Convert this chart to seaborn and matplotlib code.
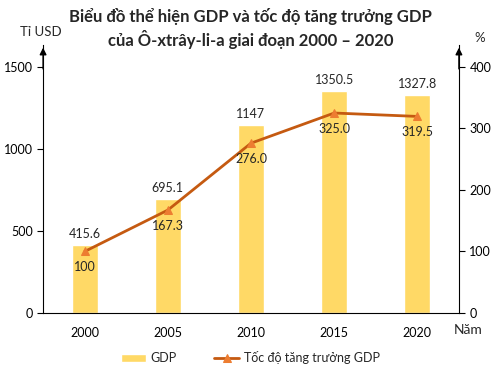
import matplotlib
matplotlib.use("Agg")
import matplotlib.pyplot as plt
import numpy as np
import pandas as pd
import seaborn as sns

years = ["2000", "2005", "2010", "2015", "2020"]
gdp = [415.6, 695.1, 1147, 1350.5, 1327.8]
growth = [100, 167.3, 276.0, 325.0, 319.5]
gdp_labels = ["415.6", "695.1", "1147", "1350.5", "1327.8"]
growth_labels = ["100", "167.3", "276.0", "325.0", "319.5"]

sns.set_style("white")
plt.rcParams["font.family"] = ["Lato", "DejaVu Sans"]

df = pd.DataFrame({"year": years, "gdp": gdp, "growth": growth})

fig = plt.figure(figsize=(5.01, 3.74), dpi=100)
ax = fig.add_axes([0.086, 0.163, 0.83, 0.717])

sns.barplot(data=df, x="year", y="gdp", color="#FFD966", width=0.31,
            saturation=1, ax=ax, label="GDP")
ax.set_xlim(-0.5, 4.5)
ax.set_ylim(0, 1634)
ax.set_yticks([0, 500, 1000, 1500])
ax.set_xlabel("")
ax.set_ylabel("")

ax2 = ax.twinx()
sns.lineplot(x=np.arange(len(years)), y=growth, ax=ax2, color="#C55A11",
             linewidth=2, marker="^", markersize=5.5, markerfacecolor="#ED7D31",
             markeredgecolor="#ED7D31", label="Tốc độ tăng trưởng GDP")
ax2.set_ylim(0, 1634 * 400 / 1500)
ax2.set_yticks([0, 100, 200, 300, 400])
ax2.set_xlim(-0.5, 4.5)

for a in (ax, ax2):
    a.spines["top"].set_visible(False)
    a.spines["left"].set_color("black")
    a.spines["right"].set_color("black")
    a.spines["bottom"].set_color("black")
    a.tick_params(labelsize=9, length=4, colors="black")
ax.spines["right"].set_visible(False)
ax2.spines["left"].set_visible(False)
ax2.spines["bottom"].set_visible(False)
ax.tick_params(axis="x", length=0, pad=10)
ax.tick_params(axis="y", left=True, direction="out")
ax2.tick_params(axis="y", right=True, direction="out")

for i, (v, lab) in enumerate(zip(gdp, gdp_labels)):
    ax.text(i, v + 30, lab, ha="center", va="bottom", fontsize=9)
for i, (v, lab) in enumerate(zip(growth, growth_labels)):
    ax2.text(i, v - 16, lab, ha="center", va="top", fontsize=9)

# axis arrows
ax.annotate("", xy=(0, 1.0), xytext=(0, 0.9), xycoords="axes fraction",
            arrowprops=dict(arrowstyle="-|>", color="black", lw=1,
                            mutation_scale=10))
ax.annotate("", xy=(1, 1.0), xytext=(1, 0.9), xycoords="axes fraction",
            arrowprops=dict(arrowstyle="-|>", color="black", lw=1,
                            mutation_scale=10))

fig.text(0.04, 0.915, "Tỉ USD", fontsize=9.5, ha="left", va="center")
fig.text(0.958, 0.898, "%", fontsize=9.5, ha="center", va="center")
fig.text(0.934, 0.118, "Năm", fontsize=10, ha="center", va="center")

fig.text(0.5, 0.955, "Biểu đồ thể hiện GDP và tốc độ tăng trưởng GDP",
         fontsize=12, fontweight="bold", ha="center", va="center")
fig.text(0.5, 0.895, "của Ô-xtrây-li-a giai đoạn 2000 – 2020",
         fontsize=12, fontweight="bold", ha="center", va="center")

h1, l1 = ax.get_legend_handles_labels()
h2, l2 = ax2.get_legend_handles_labels()
if ax.get_legend():
    ax.get_legend().remove()
if ax2.get_legend():
    ax2.get_legend().remove()
fig.legend(h1 + h2, l1 + l2, loc="center", bbox_to_anchor=(0.5, 0.043),
           ncol=2, frameon=False, fontsize=9, handlelength=2.0,
           columnspacing=3.0, handletextpad=0.4)

fig.savefig("out.png", dpi=100)
